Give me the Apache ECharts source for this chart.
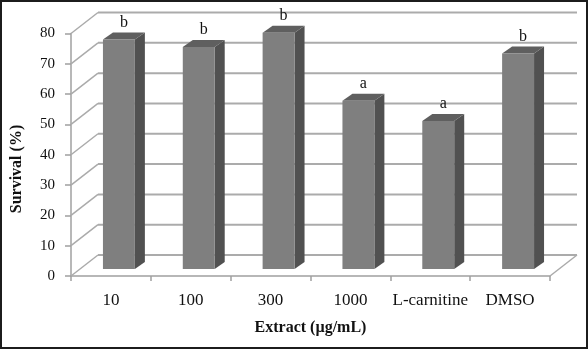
<!DOCTYPE html>
<html>
<head>
<meta charset="utf-8">
<script src="https://cdn.jsdelivr.net/npm/echarts@6/dist/echarts.min.js"></script>
<style>
html,body{margin:0;padding:0;background:#fff;}
#chart{width:588px;height:349px;}
</style>
</head>
<body>
<div id="chart"></div>
<script>
const categories = ['10', '100', '300', '1000', 'L-carnitine', 'DMSO'];
const survival = [75.7, 73.2, 77.9, 55.5, 48.8, 71.1];
const sigLetters = ['b', 'b', 'b', 'a', 'a', 'b'];
const yTicks = [0, 10, 20, 30, 40, 50, 60, 70, 80];

const DX = 27, DY = -21;      // wall depth
const BX = 8, BY = -7;        // bar front offset
const BDX = 10, BDY = -7;     // bar depth
const FONT = '"Liberation Serif", "Times New Roman", serif';

const chart = echarts.init(document.getElementById('chart'), null, {renderer: 'canvas'});

const barData = survival.map((v, i) => [i, v, sigLetters[i]]);
const wallData = yTicks.map(v => [0, v]);

const option = {
  animation: false,
  backgroundColor: '#ffffff',
  grid: {left: 71, right: 38, top: 33.5, bottom: 73, containLabel: false},
  xAxis: {
    type: 'category',
    data: categories,
    boundaryGap: true,
    axisLine: {show: true, lineStyle: {color: '#a0a0a0', width: 1.5}},
    axisTick: {show: true, length: 5, interval: 0, lineStyle: {color: '#a0a0a0', width: 1.5}},
    axisLabel: {color: '#111', fontFamily: FONT, fontSize: 17, margin: 16, interval: 0, hideOverlap: false},
    splitLine: {show: false},
    name: 'Extract (µg/mL)',
    nameLocation: 'middle',
    nameGap: 44,
    nameTextStyle: {color: '#111', fontFamily: FONT, fontSize: 16, fontWeight: 'bold'}
  },
  yAxis: {
    type: 'value',
    min: 0, max: 80, interval: 10,
    axisLine: {show: true, lineStyle: {color: '#a0a0a0', width: 1.5}},
    axisTick: {show: true, length: 6, lineStyle: {color: '#a0a0a0', width: 1.5}},
    axisLabel: {color: '#111', fontFamily: FONT, fontSize: 15, margin: 16},
    splitLine: {show: false}
  },
  graphic: [
    {
      type: 'text', x: 17, y: 169, rotation: Math.PI / 2,
      style: {text: 'Survival (%)', fill: '#111', font: 'bold 16px ' + FONT, align: 'center', verticalAlign: 'middle'}
    },
    {
      type: 'rect', z: 100, silent: true,
      shape: {x: 1, y: 1, width: 586, height: 347},
      style: {fill: 'none', stroke: '#1c1c1c', lineWidth: 2}
    }
  ],
  series: [
    {
      type: 'custom',
      z: 1,
      silent: true,
      clip: false,
      data: wallData,
      renderItem: function (params, api) {
        const cs = params.coordSys;
        const v = api.value(1);
        const y = api.coord([0, v])[1];
        const left = cs.x, right = cs.x + cs.width;
        const children = [
          {type: 'line', shape: {x1: left + DX, y1: y + DY, x2: right + DX, y2: y + DY},
           style: {stroke: '#ababab', lineWidth: 2}},
          {type: 'line', shape: {x1: left, y1: y, x2: left + DX, y2: y + DY},
           style: {stroke: '#ababab', lineWidth: 1.5}}
        ];
        if (v === 0) {
          children.push({type: 'line', shape: {x1: right, y1: y, x2: right + DX, y2: y + DY},
            style: {stroke: '#ababab', lineWidth: 1.5}});
        }
        return {type: 'group', children: children};
      }
    },
    {
      type: 'custom',
      z: 2,
      clip: false,
      data: barData,
      renderItem: function (params, api) {
        const i = api.value(0), v = api.value(1);
        const base = api.coord([i, 0]);
        const top = api.coord([i, v]);
        const bw = api.size([1, 0])[0] * 0.4;
        const x0 = base[0] - bw / 2 + BX, x1 = x0 + bw;
        const yb = base[1] + BY, yt = top[1] + BY;
        return {
          type: 'group',
          children: [
            {type: 'polygon', shape: {points: [[x1, yt], [x1 + BDX, yt + BDY], [x1 + BDX, yb + BDY], [x1, yb]]},
             style: {fill: '#515151'}},
            {type: 'polygon', shape: {points: [[x0, yt], [x0 + BDX, yt + BDY], [x1 + BDX, yt + BDY], [x1, yt]]},
             style: {fill: '#5f5f5f'}},
            {type: 'rect', shape: {x: x0, y: yt, width: bw, height: yb - yt},
             style: {fill: '#7f7f7f'}},
            {type: 'text', x: (x0 + x1) / 2 + BDX / 2, y: yt + BDY - 2,
             style: {text: sigLetters[params.dataIndex], fill: '#111', font: '16px ' + FONT, align: 'center', verticalAlign: 'bottom'}}
          ]
        };
      }
    }
  ]
};
chart.setOption(option);
</script>
</body>
</html>
